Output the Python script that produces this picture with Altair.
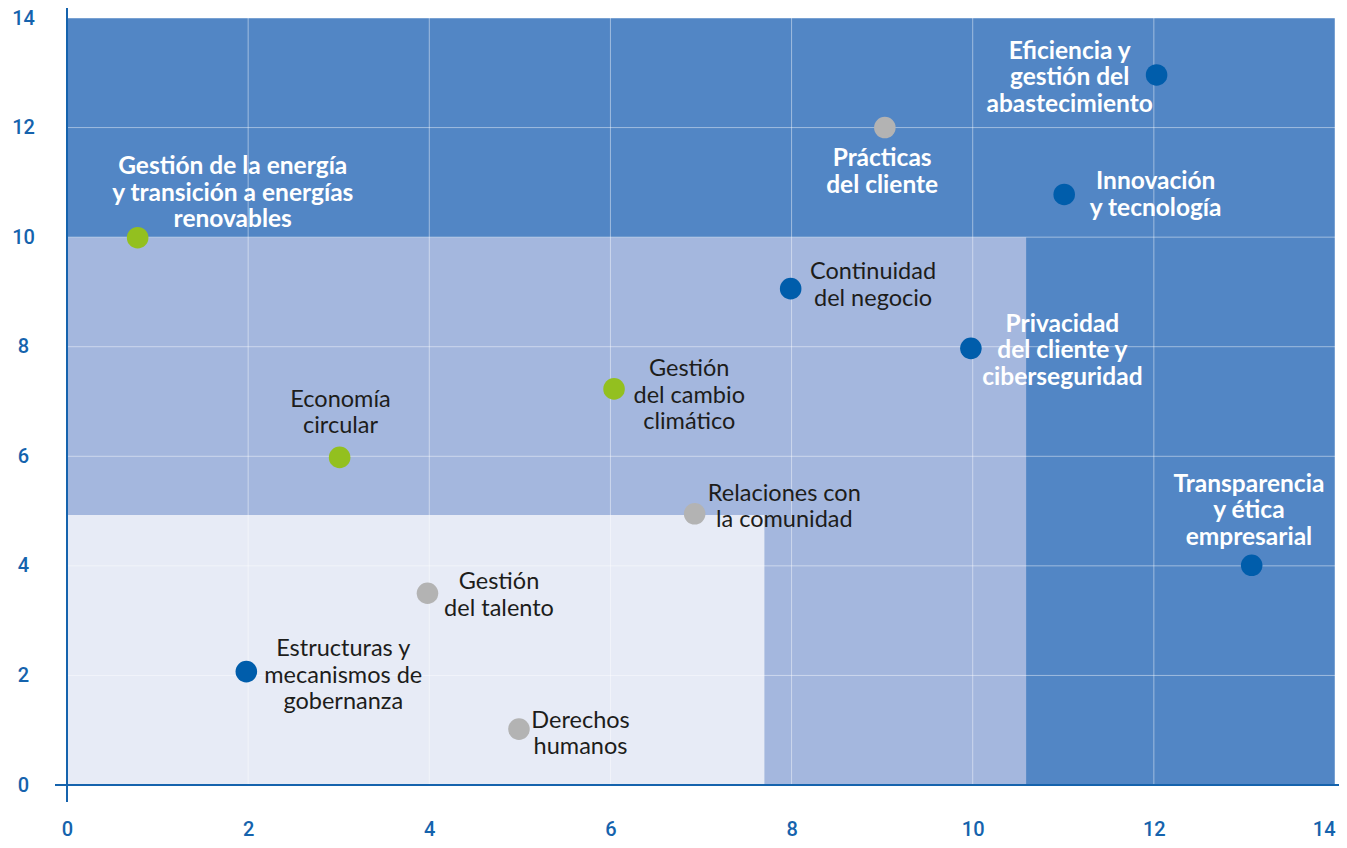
import altair as alt
import pandas as pd

# ---- data ----
names = [
    "Gestión de la energía\ny transición a energías\nrenovables",
    "Economía\ncircular",
    "Gestión\ndel cambio\nclimático",
    "Relaciones con\nla comunidad",
    "Continuidad\ndel negocio",
    "Privacidad\ndel cliente y\nciberseguridad",
    "Prácticas\ndel cliente",
    "Eficiencia y\ngestión del\nabastecimiento",
    "Innovación\ny tecnología",
    "Transparencia\ny ética\nempresarial",
    "Gestión\ndel talento",
    "Estructuras y\nmecanismos de\ngobernanza",
    "Derechos\nhumanos",
]
x_vals = [0.78, 3.01, 6.04, 6.93, 7.99, 9.98, 9.03, 12.03, 11.01, 13.08, 3.98, 1.98, 4.99]
y_vals = [9.99, 5.98, 7.23, 4.95, 9.06, 7.97, 12.0, 12.96, 10.78, 4.01, 3.5, 2.07, 1.02]
groups = ["Ambiental", "Ambiental", "Ambiental", "Social", "Gobernanza", "Gobernanza",
          "Social", "Gobernanza", "Gobernanza", "Gobernanza", "Social", "Gobernanza", "Social"]
# label anchor (centre of first text line) in data units
label_x = [1.83, 3.02, 6.87, 7.92, 8.90, 10.99, 9.00, 11.07, 12.02, 13.05, 4.77, 3.05, 5.67]
label_y = [11.28, 7.03, 7.59, 5.32, 9.36, 8.40, 11.42, 13.38, 11.00, 5.48, 3.70, 2.48, 1.17]
label_tone = ["light", "dark", "dark", "dark", "dark", "light", "light", "light", "light",
              "light", "dark", "dark", "dark"]

# background zones
zone_x2 = [14, 10.59, 7.70]
zone_y2 = [14, 10.0, 4.93]
zone_name = ["alta", "media", "baja"]
zone_color = ["#5286c5", "#a4b7de", "#e7ebf6"]

ticks = [0, 2, 4, 6, 8, 10, 12, 14]

group_domain = ["Gobernanza", "Ambiental", "Social"]
group_range = ["#005dab", "#93c01f", "#b3b3b3"]

W, H = 1268, 767
BLUE = "#1563ad"
FONT = "Lato"

df = pd.DataFrame({"name": names, "x": x_vals, "y": y_vals, "group": groups,
                   "lx": label_x, "ly": label_y, "tone": label_tone})
zones = pd.DataFrame({"zone": zone_name, "x0": [0, 0, 0], "y0": [0, 0, 0],
                      "x2": zone_x2, "y2": zone_y2})
grid = pd.DataFrame({"v": ticks})

xscale = alt.Scale(domain=[0, 14], nice=False, zero=False)
yscale = alt.Scale(domain=[0, 14], nice=False, zero=False)

xaxis = alt.Axis(values=ticks, format="d", grid=False, domain=False, ticks=False, tickSize=0,
                 labelFont="Roboto", labelFontSize=20, labelFontWeight=500, labelFlush=False,
                 labelAlign={"condition": {"test": "datum.value == 14", "value": "right"},
                             "value": "center"},
                 labelColor=BLUE, labelPadding=44, labelBaseline="middle", title=None)
yaxis = alt.Axis(values=ticks, format="d", grid=False, domain=False, ticks=False, tickSize=0,
                 labelFont="Roboto", labelFontSize=20, labelFontWeight=500, labelFlush=False,
                 labelColor=BLUE, labelPadding=44, labelAlign="center", title=None)

rects = alt.Chart(zones).mark_rect().encode(
    x=alt.X("x0:Q", scale=xscale, axis=xaxis),
    x2="x2:Q",
    y=alt.Y("y0:Q", scale=yscale, axis=yaxis),
    y2="y2:Q",
    fill=alt.Fill("zone:N", scale=alt.Scale(domain=zone_name, range=zone_color), legend=None),
)

vgrid = alt.Chart(grid).mark_rule(color="white", strokeWidth=1, opacity=0.45).encode(
    x=alt.X("v:Q", scale=xscale)
)
hgrid = alt.Chart(grid).mark_rule(color="white", strokeWidth=1, opacity=0.45).encode(
    y=alt.Y("v:Q", scale=yscale)
)

vline = alt.Chart(grid).mark_rule(color=BLUE, strokeWidth=2).encode(
    x=alt.value(0), y=alt.value(-11), y2=alt.value(H + 17)
)
hline = alt.Chart(grid).mark_rule(color=BLUE, strokeWidth=2).encode(
    y=alt.value(H), x=alt.value(-12), x2=alt.value(W + 4)
)

points = alt.Chart(df).mark_circle(size=465, opacity=1).encode(
    x=alt.X("x:Q", scale=xscale),
    y=alt.Y("y:Q", scale=yscale),
    color=alt.Color("group:N", scale=alt.Scale(domain=group_domain, range=group_range), legend=None),
)

dark_text = alt.Chart(df).transform_filter(alt.datum.tone == "dark").mark_text(
    font=FONT, fontSize=23.5, color="#1d1d1b", lineBreak="\n", lineHeight=26.5,
    align="center", baseline="middle"
).encode(x=alt.X("lx:Q", scale=xscale), y=alt.Y("ly:Q", scale=yscale), text="name:N")

light_text = alt.Chart(df).transform_filter(alt.datum.tone == "light").mark_text(
    font=FONT, fontSize=24.5, fontWeight="bold", color="white", lineBreak="\n", lineHeight=26.5,
    align="center", baseline="middle"
).encode(x=alt.X("lx:Q", scale=xscale), y=alt.Y("ly:Q", scale=yscale), text="name:N")

chart = alt.layer(rects, vgrid, hgrid, vline, hline, points, dark_text, light_text).resolve_scale(
    color="independent", fill="independent"
).properties(
    width=W, height=H,
    autosize=alt.AutoSizeParams(type="none"),
    padding={"left": 59, "top": 10, "right": 4, "bottom": 55},
).configure_view(stroke=None)

chart.save("out.html", embed_options={"renderer": "svg", "actions": False})
